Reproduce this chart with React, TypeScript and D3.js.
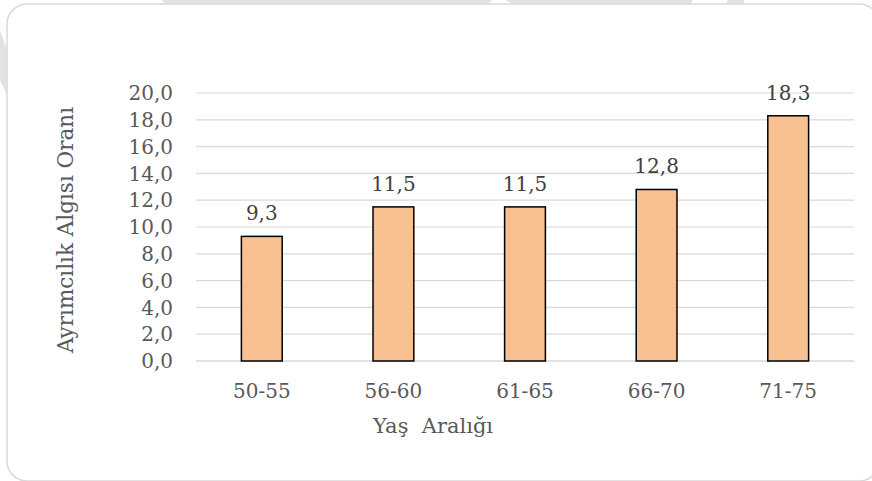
import React from "react";
import * as d3 from "d3";

const categories = ["50-55", "56-60", "61-65", "66-70", "71-75"];
const values = [9.3, 11.5, 11.5, 12.8, 18.3];
const yTicks = [0, 2, 4, 6, 8, 10, 12, 14, 16, 18, 20];

const width = 872;
const height = 481;
const font = "'DejaVu Serif', serif";

const App = () => {
  const x = d3
    .scaleBand()
    .domain(categories)
    .range([196, 854])
    .paddingInner(0.69)
    .paddingOuter(0.345);

  const y = d3.scaleLinear().domain([0, 20]).range([361, 93]);

  const fmt = (v: number) => v.toFixed(1).replace(".", ",");

  return (
    <svg
      width={width}
      height={height}
      style={{ position: "absolute", left: 0, top: 0 }}
    >
      <rect width={width} height={height} fill="#fff" />
      {/* faint background shapes behind the frame */}
      <path d="M162,0 L492,0 Q488,5 480,5 L170,5 Q163,4 162,0 Z" fill="#e4e1e1" />
      <path d="M505,0 L693,0 L690,5 L515,5 Z" fill="#e4e1e1" />
      <path d="M728,0 L745,0 L742,5 L725,5 Z" fill="#e4e1e1" />
      <path d="M0,30 L7,50 L7,95 L0,80 Z" fill="#e4e1e1" />

      <rect
        x={7}
        y={4}
        width={872}
        height={477}
        rx={20}
        fill="#fff"
        stroke="#d9d9d9"
        strokeWidth={1.5}
      />

      {yTicks.map((t) => (
        <g key={t}>
          <line
            x1={196}
            x2={854}
            y1={y(t)}
            y2={y(t)}
            stroke="#d9d9d9"
            strokeWidth={t === 0 ? 1.5 : 1.2}
          />
          <text
            x={173}
            y={y(t)}
            dy="0.36em"
            textAnchor="end"
            fontFamily={font}
            fontSize={20}
            fill="#595959"
          >
            {fmt(t)}
          </text>
        </g>
      ))}

      {categories.map((c, i) => (
        <g key={c}>
          <rect
            x={x(c)}
            y={y(values[i])}
            width={x.bandwidth()}
            height={y(0) - y(values[i])}
            fill="#f8c090"
            stroke="#000"
            strokeWidth={1.5}
          />
          <text
            x={(x(c) as number) + x.bandwidth() / 2}
            y={y(values[i]) - 16}
            textAnchor="middle"
            fontFamily={font}
            fontSize={20}
            fill="#404040"
          >
            {fmt(values[i])}
          </text>
          <text
            x={(x(c) as number) + x.bandwidth() / 2}
            y={398}
            textAnchor="middle"
            fontFamily={font}
            fontSize={20}
            fill="#595959"
          >
            {c}
          </text>
        </g>
      ))}

      <text
        x={433}
        y={433}
        textAnchor="middle"
        fontFamily={font}
        fontSize={21}
        fill="#595959"
        style={{ whiteSpace: "pre" }}
      >
        {"Yaş  Aralığı"}
      </text>
      <text
        transform="translate(73,230) rotate(-90)"
        textAnchor="middle"
        fontFamily={font}
        fontSize={21.5}
        fill="#595959"
      >
        Ayrımcılık Algısı Oranı
      </text>
    </svg>
  );
};

export default App;
